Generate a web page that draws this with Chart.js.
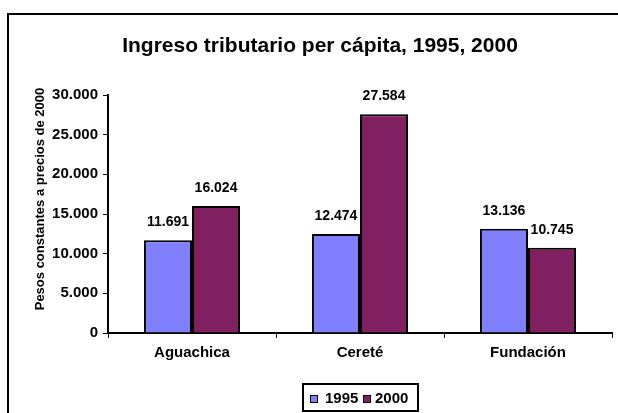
<!DOCTYPE html>
<html>
<head>
<meta charset="utf-8">
<script src="https://cdn.jsdelivr.net/npm/chart.js@4/dist/chart.umd.min.js"></script>
<style>
html,body{margin:0;padding:0;background:#fff;}
#wrap{width:618px;height:413px;position:relative;}
</style>
</head>
<body>
<div id="wrap"><canvas id="c" width="618" height="413"></canvas></div>
<script>
const categories = ["Aguachica", "Cereté", "Fundación"];
const series1995 = [11691, 12474, 13136];
const series2000 = [16024, 27584, 10745];
const seriesLabels = ["1995", "2000"];
const yTicks = [0, 5000, 10000, 15000, 20000, 25000, 30000];
const titleText = "Ingreso tributario per cápita, 1995, 2000";
const yTitleText = "Pesos constantes a precios de 2000";

const FONT = '"Liberation Sans", Arial, sans-serif';
const colors = ["#8080FF", "#802060"];

function fmt(v){
  return String(v).replace(/\B(?=(\d{3})+(?!\d))/g, ".");
}

const decor = {
  id: 'decor',
  afterDraw(chart){
    const ctx = chart.ctx;
    ctx.save();
    // outer frame
    ctx.strokeStyle = '#000';
    ctx.lineWidth = 2;
    ctx.strokeRect(8, 14, 700, 500);
    // title
    ctx.fillStyle = '#000';
    ctx.font = 'bold 21px ' + FONT;
    ctx.textAlign = 'center';
    ctx.textBaseline = 'middle';
    ctx.fillText(titleText, 320, 46);
    // y title
    ctx.font = 'bold 13px ' + FONT;
    ctx.translate(40, 199);
    ctx.rotate(-Math.PI/2);
    ctx.fillText(yTitleText, 0, 0);
    ctx.setTransform(1,0,0,1,0,0);
    // data labels
    ctx.font = 'bold 14px ' + FONT;
    ctx.textAlign = 'center';
    ctx.textBaseline = 'middle';
    chart.data.datasets.forEach((ds, di) => {
      const meta = chart.getDatasetMeta(di);
      meta.data.forEach((bar, i) => {
        ctx.fillText(fmt(ds.data[i]), bar.x, bar.y - 18);
      });
    });
    // legend
    ctx.lineWidth = 2;
    ctx.strokeRect(303, 384, 115, 27);
    const items = [{x:310, tx:325}, {x:363, tx:375}];
    ctx.textAlign = 'left';
    ctx.font = 'bold 15px ' + FONT;
    chart.data.datasets.forEach((ds, di) => {
      const it = items[di];
      ctx.fillStyle = ds.backgroundColor;
      ctx.fillRect(it.x, 395, 7, 7);
      ctx.lineWidth = 1;
      ctx.strokeStyle = '#000';
      ctx.strokeRect(it.x + 0.5, 395.5, 7, 7);
      ctx.fillStyle = '#000';
      ctx.fillText(ds.label, it.tx, 398.5);
    });
    ctx.restore();
  }
};

new Chart(document.getElementById('c'), {
  type: 'bar',
  data: {
    labels: categories,
    datasets: [
      { label: seriesLabels[0], data: series1995, backgroundColor: colors[0], borderColor: '#000', borderWidth: 2, borderSkipped: 'bottom' },
      { label: seriesLabels[1], data: series2000, backgroundColor: colors[1], borderColor: '#000', borderWidth: 2, borderSkipped: 'bottom' }
    ]
  },
  options: {
    responsive: false,
    animation: false,
    devicePixelRatio: 1,
    layout: { padding: { top: 95, right: 6, left: 0, bottom: 0 } },
    plugins: { legend: { display: false }, title: { display: false }, tooltip: { enabled: false } },
    datasets: { bar: { categoryPercentage: 0.572, barPercentage: 1.0 } },
    scales: {
      x: {
        grid: { display: true, drawOnChartArea: false, offset: true, color: '#000', tickLength: 5, lineWidth: 1 },
        border: { display: true, color: '#000', width: 2 },
        ticks: { color: '#000', font: { family: FONT, size: 15, weight: 'bold' }, padding: 6, maxRotation: 0 },
        afterFit(s){ s.height = 80; }
      },
      y: {
        min: 0, max: 30000,
        afterBuildTicks(s){ s.ticks = yTicks.map(v => ({ value: v })); },
        grid: { display: true, drawOnChartArea: false, color: '#000', tickLength: 5, lineWidth: 1 },
        border: { display: true, color: '#000', width: 2 },
        ticks: { color: '#000', font: { family: FONT, size: 15, weight: 'bold' }, padding: 5, callback: v => fmt(v) },
        afterFit(s){ s.width = 108; }
      }
    }
  },
  plugins: [decor]
});
</script>
</body>
</html>
